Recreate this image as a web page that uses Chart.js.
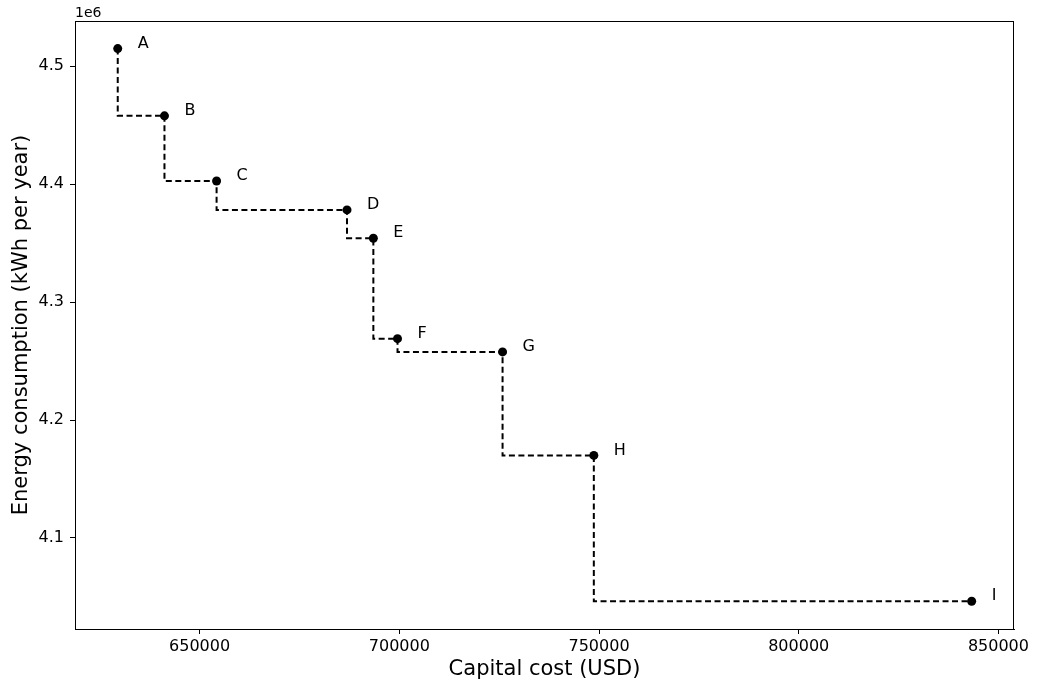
<!DOCTYPE html>
<html>
<head>
<meta charset="utf-8">
<script src="https://cdn.jsdelivr.net/npm/chart.js@4.4.1/dist/chart.umd.min.js"></script>
<style>
  html, body { margin: 0; padding: 0; background: #fff; }
  #wrap { width: 1037px; height: 688px; }
</style>
</head>
<body>
<div id="wrap"><canvas id="paretoChart" width="1037" height="688"></canvas></div>
<script>
const designLabels = ['A', 'B', 'C', 'D', 'E', 'F', 'G', 'H', 'I'];
const capitalCost = [629500, 641200, 654250, 686900, 693500, 699550, 725850, 748700, 843300];
const energyUse = [4515000, 4458000, 4402700, 4378200, 4354200, 4269000, 4257800, 4170000, 4046300];
const xTickValues = [650000, 700000, 750000, 800000, 850000];
const yTickValues = [4100000, 4200000, 4300000, 4400000, 4500000];

const FONT = "'DejaVu Sans', sans-serif";

const points = capitalCost.map((x, i) => ({ x: x, y: energyUse[i] }));

// frame, exponent label and point letters
const extrasPlugin = {
  id: 'extras',
  afterDatasetsDraw(chart) {
    const { ctx, chartArea, scales } = chart;
    ctx.save();
    ctx.strokeStyle = '#000';
    ctx.lineWidth = 1;
    ctx.strokeRect(chartArea.left + 0.5, chartArea.top + 0.5,
      chartArea.right - chartArea.left - 1, chartArea.bottom - chartArea.top);

    ctx.fillStyle = '#000';
    ctx.font = '14px ' + FONT;
    ctx.textAlign = 'left';
    ctx.textBaseline = 'alphabetic';
    ctx.fillText('1e6', chartArea.left, chartArea.top - 4);

    ctx.font = '16px ' + FONT;
    ctx.textBaseline = 'middle';
    points.forEach((p, i) => {
      const px = scales.x.getPixelForValue(p.x);
      const py = scales.y.getPixelForValue(p.y);
      ctx.fillText(designLabels[i], px + 20, py - 5);
    });
    ctx.restore();
  }
};

new Chart(document.getElementById('paretoChart'), {
  type: 'line',
  data: {
    datasets: [{
      data: points,
      stepped: 'after',
      borderColor: '#000',
      borderWidth: 2,
      borderDash: [6, 3.5],
      pointRadius: 4.5,
      pointBackgroundColor: '#000',
      pointBorderColor: '#000',
      pointBorderWidth: 0,
      fill: false
    }]
  },
  options: {
    responsive: false,
    animation: false,
    devicePixelRatio: 1,
    layout: { padding: { left: 0, right: 23, top: 21, bottom: 0 } },
    plugins: {
      legend: { display: false },
      tooltip: { enabled: false }
    },
    scales: {
      x: {
        type: 'linear',
        min: 618800,
        max: 853900,
        afterBuildTicks: (scale) => { scale.ticks = xTickValues.map(v => ({ value: v })); },
        afterFit: (scale) => { scale.height = 59; },
        grid: { drawOnChartArea: false, drawTicks: true, tickLength: 5, tickColor: '#000', tickWidth: 1 },
        border: { display: true, color: '#000', width: 1 },
        ticks: {
          color: '#000',
          font: { family: FONT, size: 16 },
          padding: 3,
          maxRotation: 0,
          callback: (v) => String(v)
        },
        title: {
          display: true,
          text: 'Capital cost (USD)',
          color: '#000',
          font: { family: FONT, size: 21 },
          padding: { top: 0, bottom: 6 }
        }
      },
      y: {
        type: 'linear',
        min: 4022800,
        max: 4538400,
        afterBuildTicks: (scale) => { scale.ticks = yTickValues.map(v => ({ value: v })); },
        afterFit: (scale) => { scale.width = 75; },
        grid: { drawOnChartArea: false, drawTicks: true, tickLength: 5, tickColor: '#000', tickWidth: 1 },
        border: { display: true, color: '#000', width: 1 },
        ticks: {
          color: '#000',
          font: { family: FONT, size: 16 },
          padding: 6,
          callback: (v) => (v / 1e6).toFixed(1)
        },
        title: {
          display: true,
          text: 'Energy consumption (kWh per year)',
          color: '#000',
          font: { family: FONT, size: 21 },
          padding: { top: 9, bottom: 0 }
        }
      }
    }
  },
  plugins: [extrasPlugin]
});
</script>
</body>
</html>
